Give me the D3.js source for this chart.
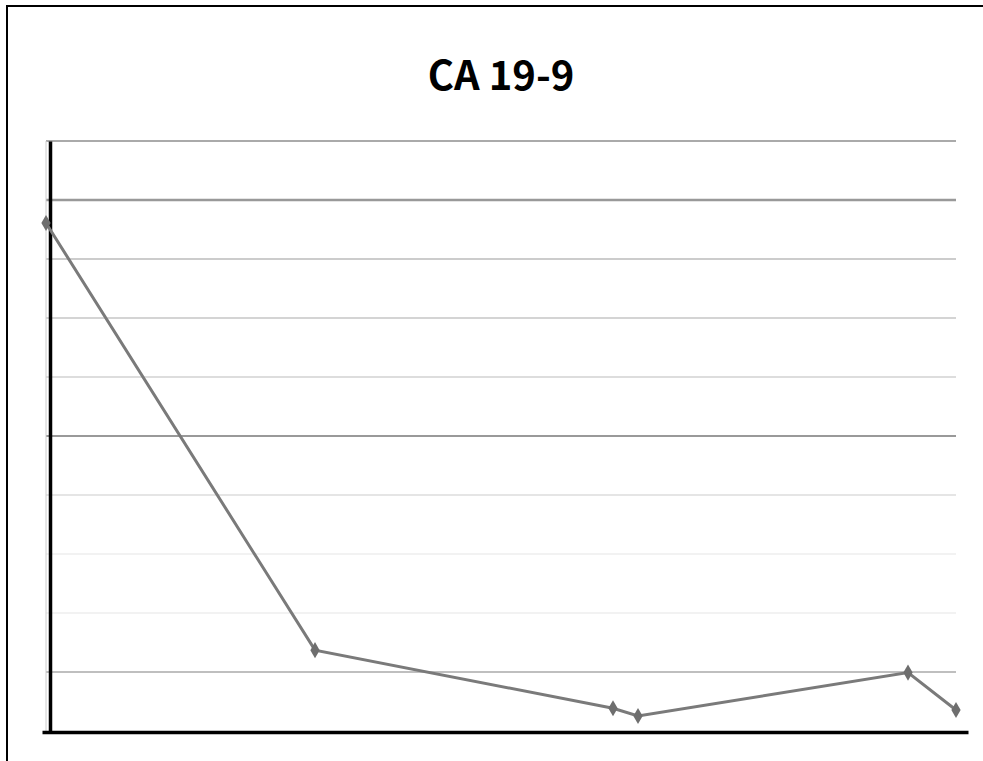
<!DOCTYPE html>
<html><head><meta charset="utf-8">
<script src="https://cdn.jsdelivr.net/npm/d3@7"></script>
<style>body{margin:0;background:#fff}svg{display:block}</style>
</head><body>
<script>
const title = "CA 19-9";
const xValues = [0, 269, 567, 592, 862, 910];
const yValues = [8.61, 1.37, 0.385, 0.254, 0.99, 0.356];
const gridTicks = [1, 2, 3, 4, 5, 6, 7, 8, 9, 10];
const gridColors = ["#aaa", "#eee", "#eee", "#ccc", "#999", "#bbb", "#aaa", "#999", "#999", "#aaa"];
const gridWidths = [1.5, 1.5, 1.5, 1.2, 2, 1.2, 1.2, 1.2, 2.5, 2];

const W = 983, H = 761;
const svg = d3.select("body").append("svg").attr("width", W).attr("height", H);
svg.append("rect").attr("width", W).attr("height", H).attr("fill", "#fff");

// frame
svg.append("rect").attr("x", 7).attr("y", 6).attr("width", W + 20).attr("height", H + 20)
  .attr("fill", "none").attr("stroke", "#000").attr("stroke-width", 2);

const x = d3.scaleLinear().domain([0, 910]).range([46, 956]);
const y = d3.scaleLinear().domain([0, 10]).range([731, 141]);

// gridlines
svg.append("g").selectAll("line").data(gridTicks).join("line")
  .attr("x1", 46).attr("x2", 956)
  .attr("y1", d => y(d)).attr("y2", d => y(d))
  .attr("stroke", (d, i) => gridColors[i]).attr("stroke-width", (d, i) => gridWidths[i]);

// faint tick axis
svg.append("line").attr("x1", 46).attr("x2", 46).attr("y1", y(10)).attr("y2", y(0))
  .attr("stroke", "#ccc").attr("stroke-width", 1);

// y axis (no labels)
const yAxis = d3.axisLeft(y).tickValues([]).tickSizeOuter(0);
const gy = svg.append("g").attr("transform", "translate(50,0)").call(yAxis);
gy.select(".domain").attr("stroke", "#000").attr("stroke-width", 3.5);

// x axis
const gx = svg.append("g").attr("transform", `translate(0,${y(0) + 1})`)
  .call(d3.axisBottom(d3.scaleLinear().domain([0, 1]).range([42, 968])).tickValues([]).tickSizeOuter(0));
gx.select(".domain").attr("stroke", "#000").attr("stroke-width", 3.5);

// line
const data = xValues.map((v, i) => ({ x: v, y: yValues[i] }));
svg.append("path").datum(data)
  .attr("fill", "none").attr("stroke", "#7a7a7a").attr("stroke-width", 3)
  .attr("d", d3.line().x(d => x(d.x)).y(d => y(d.y)));

svg.append("g").selectAll("path").data(data).join("path")
  .attr("transform", d => `translate(${x(d.x)},${y(d.y)})`)
  .attr("d", d3.symbol(d3.symbolDiamond, 75))
  .attr("fill", "#6e6e6e");

// title
svg.append("text").attr("x", 501).attr("y", 90).attr("text-anchor", "middle")
  .attr("font-family", "'Noto Sans CJK KR', 'Noto Sans', sans-serif")
  .attr("font-weight", "bold").attr("font-size", 40).attr("fill", "#000")
  .text(title);
</script>
</body></html>
